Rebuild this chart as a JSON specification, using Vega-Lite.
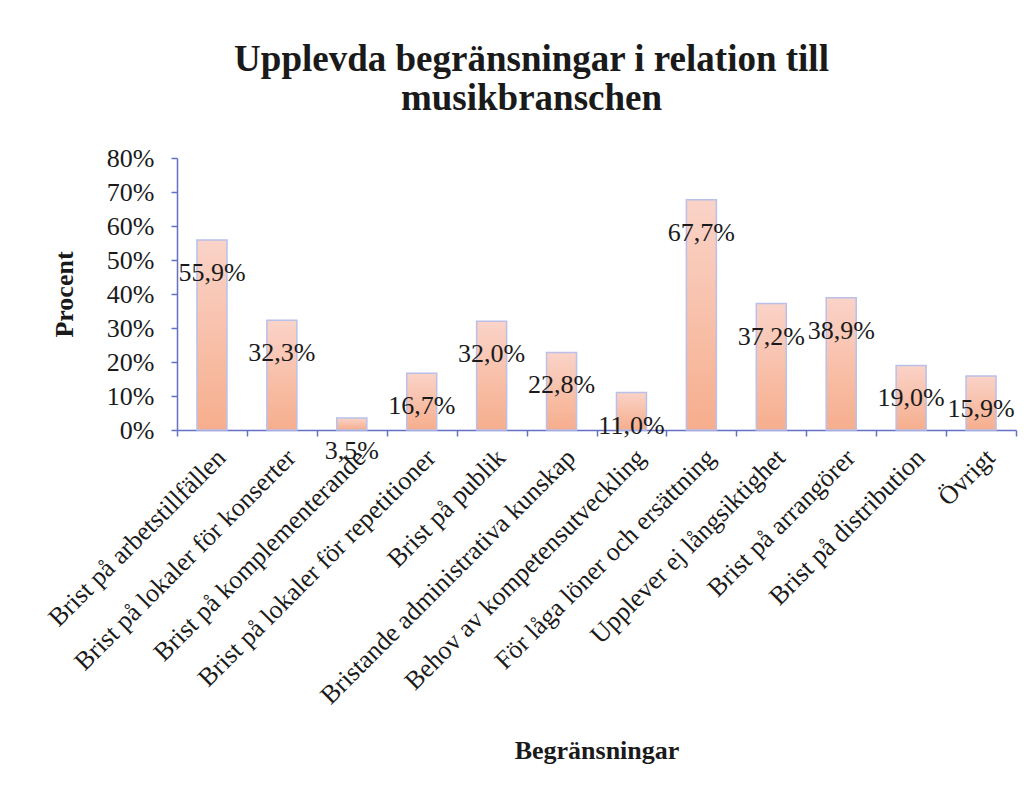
{
  "$schema": "https://vega.github.io/schema/vega-lite/v6.json",
  "width": 839,
  "height": 272,
  "autosize": {"type": "none"},
  "padding": {"left": 177, "top": 158, "right": 18, "bottom": 364},
  "background": "white",
  "config": {
    "locale": {"number": {"decimal": ",", "thousands": " ", "grouping": [3], "currency": ["", " kr"]}},
    "view": {"stroke": null},
    "font": "Liberation Serif"
  },
  "title": {
    "text": ["Upplevda begränsningar i relation till", "musikbranschen"],
    "font": "Liberation Serif",
    "fontSize": 37,
    "fontWeight": "bold",
    "color": "#1a1a1a",
    "lineHeight": 39,
    "anchor": "middle",
    "dx": -65,
    "offset": 27
  },
  "data": {
    "values": [
      {"kategori": "Brist på arbetstillfällen", "andel": 0.559},
      {"kategori": "Brist på lokaler för konserter", "andel": 0.323},
      {"kategori": "Brist på komplementerande", "andel": 0.035},
      {"kategori": "Brist på lokaler för repetitioner", "andel": 0.167},
      {"kategori": "Brist på publik", "andel": 0.320},
      {"kategori": "Bristande administrativa kunskap", "andel": 0.228},
      {"kategori": "Behov av kompetensutveckling", "andel": 0.110},
      {"kategori": "För låga löner och ersättning", "andel": 0.677},
      {"kategori": "Upplever ej långsiktighet", "andel": 0.372},
      {"kategori": "Brist på arrangörer", "andel": 0.389},
      {"kategori": "Brist på distribution", "andel": 0.190},
      {"kategori": "Övrigt", "andel": 0.159}
    ]
  },
  "encoding": {
    "x": {
      "field": "kategori",
      "type": "nominal",
      "sort": null,
      "scale": {"paddingInner": 0, "paddingOuter": 0},
      "axis": {
        "title": "Begränsningar",
        "titleFont": "Liberation Serif",
        "titleFontSize": 26,
        "titleFontWeight": "bold",
        "titleColor": "#1a1a1a",
        "titleY": 328,
        "titleBaseline": "alphabetic",
        "labelAngle": -45,
        "labelFont": "Liberation Serif",
        "labelFontSize": 26,
        "labelColor": "#1a1a1a",
        "labelPadding": 8,
        "labelLimit": 0,
        "labelOverlap": false,
        "domainColor": "#6470c4",
        "domainWidth": 1.5,
        "tickColor": "#6470c4",
        "tickWidth": 1.5,
        "tickSize": 6,
        "tickBand": "extent",
        "grid": false
      }
    },
    "y": {
      "field": "andel",
      "type": "quantitative",
      "scale": {"domain": [0, 0.8], "nice": false},
      "axis": {
        "title": "Procent",
        "titleFont": "Liberation Serif",
        "titleFontSize": 26,
        "titleFontWeight": "bold",
        "titleColor": "#1a1a1a",
        "titleX": -105,
        "titleBaseline": "alphabetic",
        "format": ".0%",
        "values": [0, 0.1, 0.2, 0.3, 0.4, 0.5, 0.6, 0.7, 0.8],
        "labelFont": "Liberation Serif",
        "labelFontSize": 26,
        "labelColor": "#1a1a1a",
        "labelPadding": 17,
        "domainColor": "#6470c4",
        "domainWidth": 1.5,
        "tickColor": "#6470c4",
        "tickWidth": 1.5,
        "tickSize": 6,
        "grid": false
      }
    }
  },
  "layer": [
    {
      "mark": {
        "type": "bar",
        "size": 30,
        "stroke": "#b9c0ea",
        "strokeWidth": 1.5,
        "fill": {
          "gradient": "linear",
          "x1": 0, "y1": 0, "x2": 0, "y2": 1,
          "stops": [
            {"offset": 0, "color": "#fad3c8"},
            {"offset": 1, "color": "#f6ae8d"}
          ]
        }
      }
    },
    {
      "mark": {
        "type": "text",
        "font": "Liberation Serif",
        "fontSize": 26,
        "color": "#1a1a1a",
        "baseline": "middle",
        "align": "center",
        "dy": 33
      },
      "encoding": {
        "text": {"field": "andel", "type": "quantitative", "format": ".1%"}
      }
    }
  ]
}
